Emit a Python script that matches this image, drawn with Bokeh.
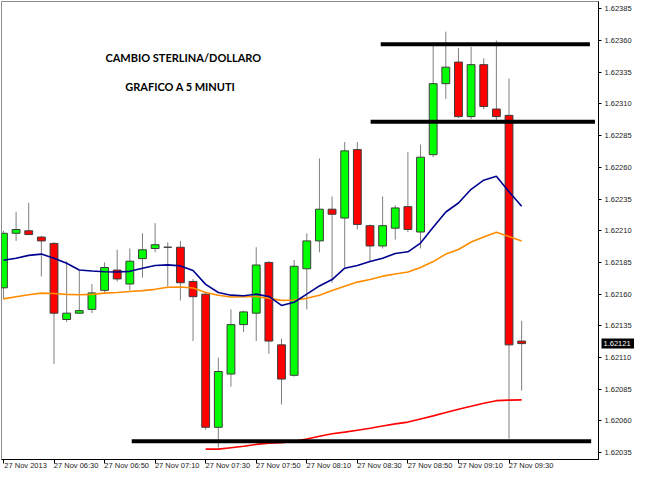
from bokeh.plotting import figure
from bokeh.models import Range1d, FixedTicker, PrintfTickFormatter, Label, ColumnDataSource, LinearAxis
from bokeh.embed import file_html
from bokeh.resources import INLINE

# ---- data (GBP/USD, 5-minute candles, 27 Nov 2013 06:10 .. 09:35) ----
bar_index = list(range(42))

opens = [1.62165, 1.62208, 1.62210, 1.62205, 1.62200, 1.62140, 1.62145, 1.62148, 1.62163, 1.62179,
         1.62168, 1.62188, 1.62196, 1.62197, 1.62197, 1.62170, 1.62160, 1.62055, 1.62097, 1.62136,
         1.62145, 1.62185, 1.62120, 1.62096, 1.62180, 1.62202, 1.62227, 1.62220, 1.62274, 1.62214,
         1.62198, 1.62212, 1.62229, 1.62209, 1.62270, 1.62326, 1.62343, 1.62300, 1.62341, 1.62306,
         1.62301, 1.62123]
highs = [1.62210, 1.62225, 1.62232, 1.62206, 1.62201, 1.62186, 1.62179, 1.62168, 1.62185, 1.62195,
         1.62196, 1.62208, 1.62216, 1.62201, 1.62202, 1.62172, 1.62161, 1.62110, 1.62148, 1.62147,
         1.62197, 1.62186, 1.62125, 1.62187, 1.62208, 1.62267, 1.62237, 1.62280, 1.62280, 1.62215,
         1.62237, 1.62230, 1.62272, 1.62278, 1.62356, 1.62367, 1.62354, 1.62355, 1.62346, 1.62360,
         1.62330, 1.62139]
lows = [1.62156, 1.62202, 1.62207, 1.62174, 1.62105, 1.62138, 1.62145, 1.62145, 1.62161, 1.62170,
        1.62163, 1.62173, 1.62193, 1.62166, 1.62155, 1.62123, 1.62053, 1.62039, 1.62087, 1.62130,
        1.62123, 1.62113, 1.62073, 1.62095, 1.62148, 1.62193, 1.62169, 1.62181, 1.62211, 1.62186,
        1.62196, 1.62203, 1.62209, 1.62196, 1.62268, 1.62314, 1.62299, 1.62298, 1.62306, 1.62297,
        1.62046, 1.62084]
closes = [1.62208, 1.62211, 1.62207, 1.62202, 1.62145, 1.62145, 1.62147, 1.62161, 1.62181, 1.62172,
          1.62186, 1.62195, 1.62199, 1.62197, 1.62169, 1.62158, 1.62055, 1.62099, 1.62136, 1.62146,
          1.62183, 1.62123, 1.62093, 1.62182, 1.62202, 1.62227, 1.62223, 1.62273, 1.62215, 1.62198,
          1.62214, 1.62228, 1.62211, 1.62268, 1.62326, 1.62339, 1.62300, 1.62341, 1.62308, 1.62300,
          1.62120, 1.62121]

ma_blue = [1.621867, 1.621883, 1.621906, 1.621916, 1.621883, 1.621844, 1.621790, 1.621782, 1.621777, 1.621775,
           1.621780, 1.621805, 1.621826, 1.621831, 1.621823, 1.621786, 1.621677, 1.621613, 1.621592, 1.621588,
           1.621600, 1.621582, 1.621511, 1.621536, 1.621600, 1.621665, 1.621715, 1.621805, 1.621826, 1.621857,
           1.621883, 1.621921, 1.621934, 1.622003, 1.622127, 1.622248, 1.622319, 1.622427, 1.622499, 1.622529,
           1.622408, 1.622293]
ma_orange = [1.621563, 1.621580, 1.621595, 1.621608, 1.621605, 1.621598, 1.621595, 1.621598, 1.621608, 1.621613,
             1.621621, 1.621628, 1.621638, 1.621654, 1.621657, 1.621648, 1.621613, 1.621592, 1.621577, 1.621580,
             1.621582, 1.621567, 1.621551, 1.621554, 1.621567, 1.621592, 1.621628, 1.621663, 1.621695, 1.621715,
             1.621742, 1.621759, 1.621775, 1.621811, 1.621857, 1.621916, 1.621952, 1.622011, 1.622050, 1.622088,
             1.622054, 1.622019]
ma_red_index = list(range(16, 42))
ma_red = [1.620378, 1.620378, 1.620389, 1.620400, 1.620415, 1.620425, 1.620429, 1.620439, 1.620458, 1.620479,
          1.620499, 1.620512, 1.620527, 1.620543, 1.620560, 1.620577, 1.620591, 1.620616, 1.620640, 1.620666,
          1.620693, 1.620716, 1.620740, 1.620760, 1.620764, 1.620766]

level_prices = [1.62357, 1.62296, 1.62044]
level_from = [29.85, 29.05, 10.15]
level_to = [46.4, 46.8, 46.5]

time_tick_index = [0, 4, 8, 12, 16, 20, 24, 28, 32, 36, 40]
time_tick_labels = ["27 Nov 2013", "27 Nov 06:30", "27 Nov 06:50", "27 Nov 07:10", "27 Nov 07:30",
                    "27 Nov 07:50", "27 Nov 08:10", "27 Nov 08:30", "27 Nov 08:50", "27 Nov 09:10",
                    "27 Nov 09:30"]
price_ticks = [1.62035, 1.62060, 1.62085, 1.62110, 1.62135, 1.62160, 1.62185, 1.62210,
               1.62235, 1.62260, 1.62285, 1.62310, 1.62335, 1.62360, 1.62385]
last_price = 1.62121
title_lines = ["CAMBIO STERLINA/DOLLARO", "GRAFICO A 5 MINUTI"]

# ---- figure ----
p = figure(width=634, height=472, output_backend="svg", toolbar_location=None,
           x_range=Range1d(-0.154, 47.08), y_range=Range1d(1.620296, 1.623908),
           y_axis_location="right", min_border_left=1, min_border_top=1,
           min_border_right=35, min_border_bottom=0,
           background_fill_color="white", border_fill_color="white")
p.xgrid.visible = False
p.ygrid.visible = False
p.outline_line_color = "#8c8c8c"
p.outline_line_width = 1

src = ColumnDataSource(dict(
    x=bar_index, o=opens, h=highs, l=lows, c=closes,
    top=[max(a, b) for a, b in zip(opens, closes)],
    bottom=[min(a, b) for a, b in zip(opens, closes)],
    color=["#00ff00" if c >= o else "#ff0000" for o, c in zip(opens, closes)],
))
p.segment(x0="x", y0="l", x1="x", y1="h", source=src, line_color="#7f7f7f", line_width=1)
p.vbar(x="x", width=0.62, top="top", bottom="bottom", source=src,
       fill_color="color", line_color="#3c3c3c", line_width=1)

p.line(ma_red_index, ma_red, line_color="#ff0000", line_width=1.6)
p.line(bar_index, ma_orange, line_color="#ff8c00", line_width=1.6)
p.line(bar_index, ma_blue, line_color="#000090", line_width=1.6)

p.segment(x0=level_from, y0=level_prices, x1=level_to, y1=level_prices,
          line_color="black", line_width=4)

for txt, xx, yy in zip(title_lines, [14.23, 14.0], [1.623465, 1.623238]):
    p.add_layout(Label(x=xx, y=yy, text=txt, text_align="center", text_baseline="middle",
                       text_font="Lato", text_font_style="bold", text_font_size="11px",
                       text_color="black"))

# right price axis
ya = p.yaxis[0]
ya.ticker = FixedTicker(ticks=price_ticks)
ya.formatter = PrintfTickFormatter(format="%.5f")
ya.axis_line_color = "black"
ya.major_tick_line_color = "black"
ya.major_tick_out = 3
ya.major_tick_in = 0
ya.minor_tick_line_color = None
ya.major_label_standoff = 3
ya.major_label_text_font = "Liberation Sans"
ya.major_label_text_font_size = "7.5px"
ya.major_label_text_color = "#222222"

# last-price marker: white label on a black box, drawn by a second right axis
# whose (thick, inward) tick reaches back over the price column
yl = LinearAxis(ticker=FixedTicker(ticks=[last_price]), formatter=PrintfTickFormatter(format="%.5f"))
yl.axis_line_color = None
yl.minor_tick_line_color = None
yl.major_tick_line_color = "black"
yl.major_tick_line_width = 10
yl.major_tick_in = 33
yl.major_tick_out = 0
yl.major_label_standoff = -31
yl.major_label_text_font = "Liberation Sans"
yl.major_label_text_font_size = "7.5px"
yl.major_label_text_color = "white"
p.add_layout(yl, "right")

# bottom time axis: tick marks at the bar, label text starting right of the tick
xa = p.xaxis[0]
xa.ticker = FixedTicker(ticks=time_tick_index)
xa.axis_line_color = "black"
xa.major_tick_line_color = "black"
xa.major_tick_out = 4
xa.major_tick_in = 0
xa.minor_tick_line_color = None
xa.major_label_standoff = 0
xa.major_label_text_font_size = "1px"
xa.major_label_text_color = None

label_shift = 1.75
shifted = [t + label_shift for t in time_tick_index]
xb = LinearAxis(ticker=FixedTicker(ticks=shifted),
                major_label_overrides={s: lab for s, lab in zip(shifted, time_tick_labels)})
xb.axis_line_color = None
xb.major_tick_line_color = None
xb.minor_tick_line_color = None
xb.major_tick_out = 0
xb.major_tick_in = 0
xb.major_label_standoff = -3
xb.major_label_text_font = "Liberation Sans"
xb.major_label_text_font_size = "7.5px"
xb.major_label_text_color = "#222222"
p.add_layout(xb, "below")

open("out.html", "w").write(file_html(p, INLINE))
